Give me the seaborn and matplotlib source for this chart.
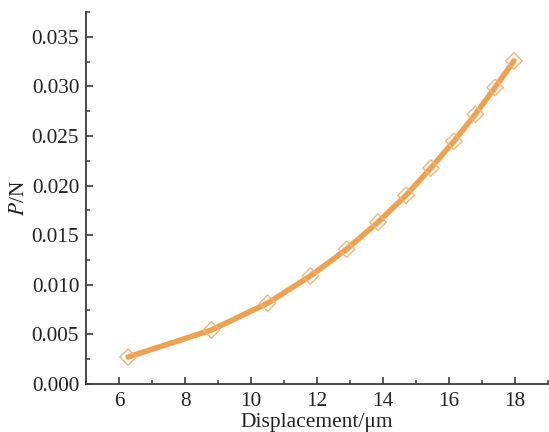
import numpy as np
import pandas as pd
import seaborn as sns
import matplotlib.pyplot as plt
from matplotlib.ticker import MultipleLocator

# values
displacement = [6.27, 8.80, 10.50, 11.80, 12.90, 13.85, 14.70, 15.45, 16.15, 16.80, 17.40, 17.97]
load = [0.00272, 0.00545, 0.00815, 0.01090, 0.01360, 0.01632, 0.01903, 0.02177, 0.02448, 0.02720, 0.02990, 0.03258]

df = pd.DataFrame({"displacement": displacement, "load": load})

sns.set_style("ticks")
plt.rcParams["font.family"] = ["Liberation Serif", "DejaVu Serif"]
plt.rcParams["mathtext.fontset"] = "stix"

fig = plt.figure(figsize=(5.49, 4.32), dpi=100)
ax = fig.add_axes([0.157, 0.111, 0.841, 0.861])

line_color = "#EFA24E"
sns.lineplot(data=df, x="displacement", y="load", ax=ax, color=line_color,
             linewidth=4, zorder=2)
ax.scatter(df["displacement"], df["load"], marker="D", s=70,
           facecolors="none", edgecolors="#F3B47C", linewidths=1.0, zorder=3)

ax.set_xlim(5, 19)
ax.set_ylim(0, 0.0375)
ax.xaxis.set_major_locator(MultipleLocator(2))
ax.xaxis.set_minor_locator(MultipleLocator(1))
ax.yaxis.set_major_locator(MultipleLocator(0.005))
ax.yaxis.set_minor_locator(MultipleLocator(0.0025))
ax.yaxis.set_major_formatter(plt.FormatStrFormatter("%.3f"))

axis_color = "#3a3a3a"
for side in ["top", "right"]:
    ax.spines[side].set_visible(False)
for side in ["left", "bottom"]:
    ax.spines[side].set_color(axis_color)
    ax.spines[side].set_linewidth(1.3)

ax.tick_params(which="major", direction="in", length=5, width=1.2,
               colors=axis_color, labelsize=15.3, labelcolor="#222222", pad=5)
ax.tick_params(axis="x", which="major", pad=6)
ax.tick_params(which="minor", direction="in", length=3, width=1.1, colors=axis_color)

ax.set_xlabel("Displacement/\u03bcm", fontsize=15.5, color="#222222", labelpad=1)
ax.set_ylabel("$\\mathit{P}$/N", fontsize=15.5, color="#222222", labelpad=2)

fig.savefig("out.png", dpi=100)
